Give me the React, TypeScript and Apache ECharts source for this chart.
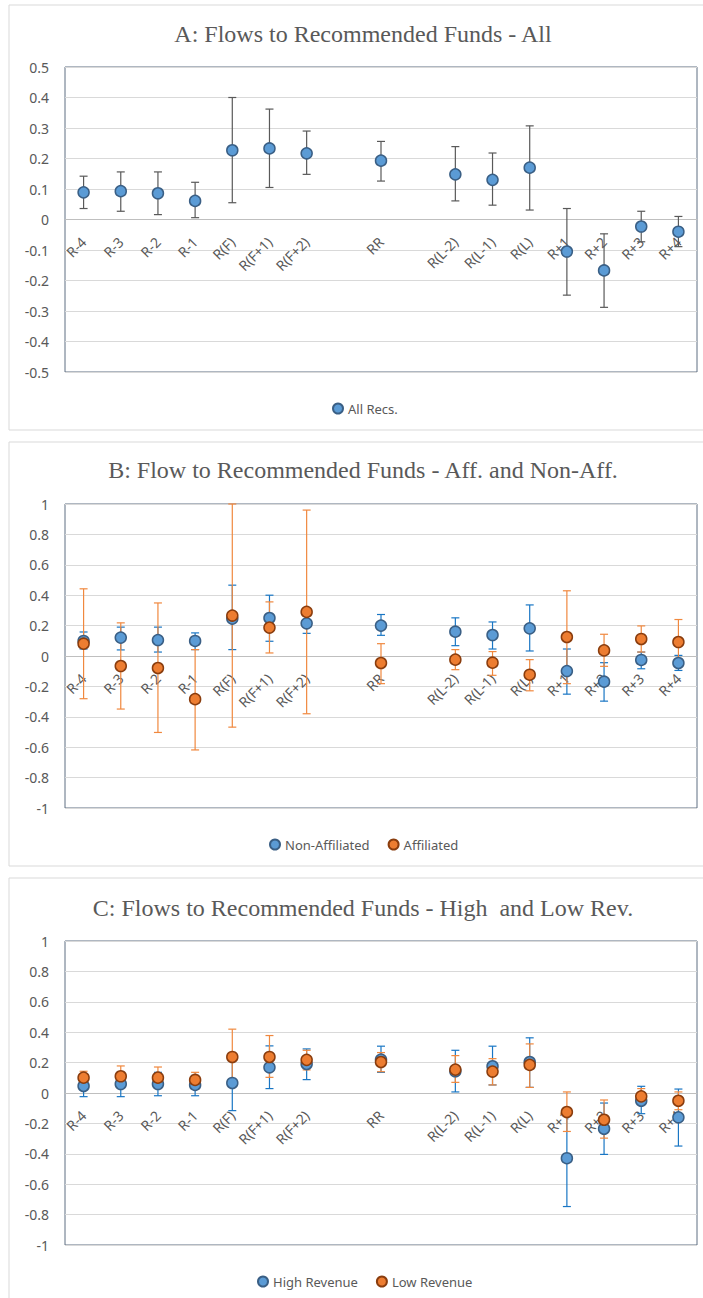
import React, { useEffect, useRef } from "react";
import * as echarts from "echarts";

const categories = ["R-4", "R-3", "R-2", "R-1", "R(F)", "R(F+1)", "R(F+2)", "", "RR", "", "R(L-2)", "R(L-1)", "R(L)", "R+1", "R+2", "R+3", "R+4"];

// Panel A
const allRecs = [0.089, 0.093, 0.086, 0.061, 0.227, 0.233, 0.217, null, 0.193, null, 0.148, 0.130, 0.170, -0.105, -0.167, -0.023, -0.040];
const allRecsHi = [0.142, 0.156, 0.156, 0.122, 0.400, 0.362, 0.290, null, 0.256, null, 0.239, 0.218, 0.307, 0.036, -0.047, 0.027, 0.010];
const allRecsLo = [0.036, 0.027, 0.016, 0.006, 0.055, 0.105, 0.148, null, 0.126, null, 0.061, 0.047, 0.031, -0.248, -0.288, -0.073, -0.089];

// Panel B
const nonAff = [0.099, 0.121, 0.105, 0.099, 0.246, 0.250, 0.215, null, 0.200, null, 0.160, 0.138, 0.182, -0.099, -0.169, -0.026, -0.046];
const nonAffHi = [0.158, 0.190, 0.190, 0.152, 0.466, 0.400, 0.285, null, 0.273, null, 0.251, 0.224, 0.336, 0.046, -0.044, 0.026, 0.004];
const nonAffLo = [0.046, 0.040, 0.026, 0.042, 0.042, 0.097, 0.149, null, 0.136, null, 0.068, 0.046, 0.033, -0.251, -0.297, -0.084, -0.095];
const aff = [0.081, -0.066, -0.079, -0.284, 0.266, 0.187, 0.290, null, -0.046, null, -0.024, -0.044, -0.123, 0.125, 0.037, 0.112, 0.092];
const affHi = [0.442, 0.218, 0.349, 0.042, 1.0, 0.356, 0.960, null, 0.081, null, 0.042, 0.029, -0.024, 0.429, 0.143, 0.198, 0.240];
const affLo = [-0.281, -0.349, -0.503, -0.618, -0.468, 0.020, -0.380, null, -0.182, null, -0.090, -0.127, -0.229, -0.182, -0.068, 0.026, -0.020];

// Panel C
const highRev = [0.046, 0.059, 0.059, 0.053, 0.066, 0.169, 0.191, null, 0.220, null, 0.143, 0.176, 0.204, -0.429, -0.235, -0.051, -0.160];
const highRevHi = [0.120, 0.136, 0.136, 0.116, 0.240, 0.310, 0.290, null, 0.308, null, 0.281, 0.308, 0.363, -0.111, -0.066, 0.044, 0.026];
const highRevLo = [-0.024, -0.024, -0.018, -0.018, -0.116, 0.029, 0.088, null, 0.136, null, 0.007, 0.053, 0.037, -0.747, -0.404, -0.136, -0.349];
const lowRev = [0.101, 0.110, 0.101, 0.086, 0.237, 0.237, 0.218, null, 0.204, null, 0.154, 0.141, 0.185, -0.125, -0.176, -0.022, -0.051];
const lowRevHi = [0.143, 0.178, 0.171, 0.136, 0.420, 0.378, 0.281, null, 0.266, null, 0.246, 0.226, 0.323, 0.007, -0.046, 0.029, 0.007];
const lowRevLo = [0.060, 0.042, 0.030, 0.036, 0.054, 0.103, 0.152, null, 0.140, null, 0.070, 0.053, 0.037, -0.253, -0.297, -0.070, -0.110];

const titles = [
  "A: Flows to Recommended Funds - All",
  "B: Flow to Recommended Funds - Aff. and Non-Aff.",
  "C: Flows to Recommended Funds - High  and Low Rev.",
];

const TXT = "#595959";
const BLUE = "#5B9BD5";
const BLUE_BORDER = "#3A5F85";
const ORANGE = "#ED7D31";
const ORANGE_BORDER = "#8A3D0E";

function pts(vals: (number | null)[]) {
  const out: any[] = [];
  vals.forEach((v, i) => {
    if (v !== null) out.push([i, v]);
  });
  return out;
}
function errs(lo: (number | null)[], hi: (number | null)[]) {
  const out: any[] = [];
  lo.forEach((v, i) => {
    if (v !== null && hi[i] !== null) out.push([i, v, hi[i]]);
  });
  return out;
}

function errSeries(name: string, idx: number, lo: any, hi: any, color: string) {
  return {
    type: "custom",
    name,
    xAxisIndex: idx,
    yAxisIndex: idx,
    data: errs(lo, hi),
    encode: { x: 0, y: [1, 2] },
    z: 3,
    renderItem: (params: any, api: any) => {
      const x = api.value(0);
      const a = api.coord([x, api.value(1)]);
      const b = api.coord([x, api.value(2)]);
      const hw = 4;
      const style = { stroke: color, lineWidth: 1.2 };
      return {
        type: "group",
        children: [
          { type: "line", shape: { x1: a[0], y1: a[1], x2: b[0], y2: b[1] }, style },
          { type: "line", shape: { x1: a[0] - hw, y1: a[1], x2: a[0] + hw, y2: a[1] }, style },
          { type: "line", shape: { x1: b[0] - hw, y1: b[1], x2: b[0] + hw, y2: b[1] }, style },
        ],
      };
    },
  };
}

function dotSeries(name: string, idx: number, vals: any, fill: string, border: string) {
  return {
    type: "scatter",
    name,
    xAxisIndex: idx,
    yAxisIndex: idx,
    data: pts(vals),
    symbol: "circle",
    symbolSize: 11,
    z: 4,
    itemStyle: { color: fill, borderColor: border, borderWidth: 1.5, opacity: 1 },
  };
}

const gridTops = [67, 504, 941];
const gridHeights = [305, 304, 304];
const titleY = [34, 470, 908];
const legendTop = [397, 833, 1270];
const legendLeft = [327, 264, 252];
const boxes = [
  [9, 5, 425],
  [9, 442, 424],
  [9, 878, 440],
];

export default function App() {
  const ref = useRef<HTMLDivElement>(null);
  useEffect(() => {
    if (!ref.current) return;
    const chart = echarts.init(ref.current, null, { renderer: "svg" });
    const grids = gridTops.map((t, i) => ({
      left: 65,
      top: t,
      width: 632,
      height: gridHeights[i],
      show: true,
      borderColor: "#5F6E82",
      borderWidth: 1,
      backgroundColor: "transparent",
    }));
    const xAxes = gridTops.map((_, i) => ({
      type: "category",
      gridIndex: i,
      data: categories,
      position: "bottom",
      // the category axis crosses the value axis at 0 (middle of the plot)
      offset: -gridHeights[i] / 2,
      axisLine: { show: true, onZero: false, lineStyle: { color: "#BFBFBF", width: 1 } },
      axisTick: { show: false },
      splitLine: { show: false },
      axisLabel: {
        interval: 0,
        rotate: 45,
        margin: 20,
        color: TXT,
        fontFamily: "Noto Sans",
        fontSize: 14,
      },
    }));
    const yAxes = gridTops.map((_, i) => ({
      type: "value",
      gridIndex: i,
      min: i === 0 ? -0.5 : -1,
      max: i === 0 ? 0.5 : 1,
      interval: i === 0 ? 0.1 : 0.2,
      axisLine: { show: false },
      axisTick: { show: false },
      splitLine: { show: true, lineStyle: { color: "#D9D9D9", width: 1 } },
      axisLabel: {
        color: TXT,
        fontFamily: "Noto Sans",
        fontSize: 14,
        margin: 16,
        formatter: (v: number) => String(Math.round(v * 10) / 10),
      },
    }));
    const legends = [
      ["All Recs."],
      ["Non-Affiliated", "Affiliated"],
      ["High Revenue", "Low Revenue"],
    ].map((d, i) => ({
      data: d,
      left: legendLeft[i],
      top: legendTop[i],
      icon: "circle",
      itemWidth: 10,
      itemHeight: 10,
      itemGap: 18,
      textStyle: { color: TXT, fontFamily: "Noto Sans", fontSize: 13 },
    }));
    const graphic: any[] = [];
    boxes.forEach((b) => {
      graphic.push({
        type: "rect",
        shape: { x: b[0], y: b[1], width: 720, height: b[2] },
        style: { fill: "none", stroke: "#D9D9D9", lineWidth: 1 },
        z: -1,
      });
    });
    titles.forEach((t, i) => {
      graphic.push({
        type: "text",
        x: 363,
        y: titleY[i],
        style: {
          text: t,
          textAlign: "center",
          textVerticalAlign: "middle",
          fill: TXT,
          font: "24px 'Liberation Serif'",
        },
      });
    });
    chart.setOption({
      animation: false,
      backgroundColor: "#ffffff",
      grid: grids,
      xAxis: xAxes,
      yAxis: yAxes,
      legend: legends,
      graphic,
      series: [
        errSeries("All Recs. err", 0, allRecsLo, allRecsHi, "#595959"),
        dotSeries("All Recs.", 0, allRecs, BLUE, BLUE_BORDER),
        errSeries("Non-Affiliated err", 1, nonAffLo, nonAffHi, "#1976C4"),
        dotSeries("Non-Affiliated", 1, nonAff, BLUE, BLUE_BORDER),
        errSeries("Affiliated err", 1, affLo, affHi, "#F0883E"),
        dotSeries("Affiliated", 1, aff, ORANGE, ORANGE_BORDER),
        errSeries("High Revenue err", 2, highRevLo, highRevHi, "#1976C4"),
        dotSeries("High Revenue", 2, highRev, BLUE, BLUE_BORDER),
        errSeries("Low Revenue err", 2, lowRevLo, lowRevHi, "#F0883E"),
        dotSeries("Low Revenue", 2, lowRev, ORANGE, ORANGE_BORDER),
      ],
    });
    return () => chart.dispose();
  }, []);
  return (
    <div
      ref={ref}
      style={{ position: "absolute", left: 0, top: 0, width: 703, height: 1298 }}
    />
  );
}
